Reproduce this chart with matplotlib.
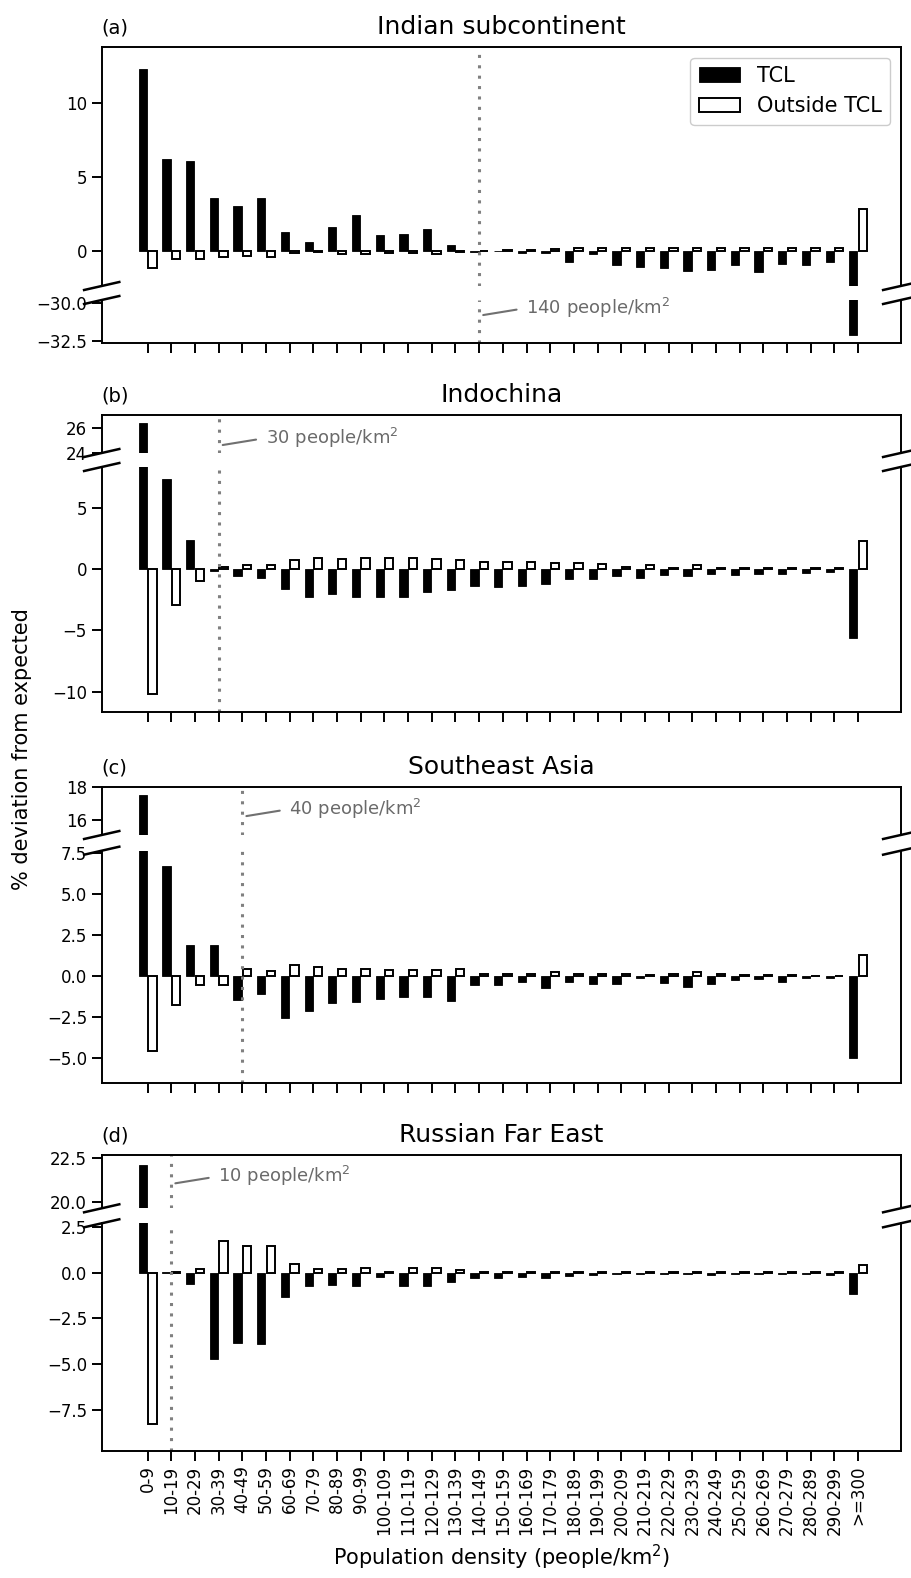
import numpy as np
import matplotlib
matplotlib.use('Agg')
import matplotlib.pyplot as plt
from matplotlib.lines import Line2D

# ---------------- data ----------------
categories = ['0-9', '10-19', '20-29', '30-39', '40-49', '50-59', '60-69', '70-79',
              '80-89', '90-99', '100-109', '110-119', '120-129', '130-139', '140-149',
              '150-159', '160-169', '170-179', '180-189', '190-199', '200-209',
              '210-219', '220-229', '230-239', '240-249', '250-259', '260-269',
              '270-279', '280-289', '290-299', '>=300']

india_tcl = [12.3, 6.2, 6.1, 3.6, 3.0, 3.6, 1.25, 0.6, 1.6, 2.4, 1.05, 1.15, 1.5, 0.35,
             -0.1, -0.05, -0.15, -0.15, -0.75, -0.25, -1.0, -1.1, -1.2, -1.35, -1.3,
             -0.95, -1.45, -0.9, -1.0, -0.8, -32.1]
india_out = [-1.15, -0.6, -0.6, -0.4, -0.35, -0.4, -0.15, -0.12, -0.2, -0.25, -0.15,
             -0.15, -0.2, -0.1, -0.05, 0.05, 0.05, 0.1, 0.15, 0.15, 0.15, 0.15, 0.15,
             0.15, 0.15, 0.15, 0.15, 0.15, 0.15, 0.15, 2.85]

indochina_tcl = [26.4, 7.3, 2.35, -0.15, -0.6, -0.7, -1.65, -2.25, -2.0, -2.25, -2.25,
                 -2.25, -1.85, -1.7, -1.35, -1.45, -1.4, -1.2, -0.85, -0.85, -0.55,
                 -0.75, -0.5, -0.6, -0.4, -0.5, -0.4, -0.4, -0.35, -0.25, -5.65]
indochina_out = [-10.2, -2.9, -0.95, 0.2, 0.3, 0.3, 0.7, 0.9, 0.8, 0.9, 0.9, 0.9, 0.8,
                 0.7, 0.6, 0.6, 0.6, 0.5, 0.45, 0.4, 0.2, 0.3, 0.1, 0.3, 0.1, 0.1, 0.1,
                 0.05, 0.05, 0.05, 2.3]

seasia_tcl = [17.55, 6.7, 1.9, 1.9, -1.45, -1.1, -2.55, -2.15, -1.65, -1.6, -1.4, -1.3,
              -1.25, -1.5, -0.55, -0.55, -0.35, -0.75, -0.35, -0.5, -0.5, -0.15, -0.45,
              -0.65, -0.5, -0.25, -0.2, -0.35, -0.15, -0.1, -5.0]
seasia_out = [-4.55, -1.75, -0.55, -0.55, 0.4, 0.3, 0.65, 0.55, 0.4, 0.4, 0.35, 0.35,
              0.35, 0.4, 0.1, 0.1, 0.1, 0.25, 0.1, 0.1, 0.15, 0.05, 0.1, 0.25, 0.1, 0.05,
              0.05, 0.05, 0.02, 0.02, 1.3]

russia_tcl = [22.1, 0.05, -0.6, -4.7, -3.85, -3.9, -1.35, -0.7, -0.65, -0.75, -0.25,
              -0.75, -0.75, -0.5, -0.3, -0.3, -0.25, -0.3, -0.2, -0.12, -0.08, -0.05,
              -0.05, -0.05, -0.1, -0.05, -0.08, -0.05, -0.08, -0.1, -1.15]
russia_out = [-8.25, 0.02, 0.2, 1.75, 1.45, 1.45, 0.45, 0.2, 0.2, 0.25, 0.05, 0.25, 0.25,
              0.15, 0.05, 0.05, 0.05, 0.03, 0.03, 0.03, 0.02, 0.02, 0.02, 0.02, 0.02,
              0.02, 0.02, 0.02, 0.02, 0.02, 0.4]

region_names = ['Indian subcontinent', 'Indochina', 'Southeast Asia', 'Russian Far East']
panel_tags = ['(a)', '(b)', '(c)', '(d)']
threshold_index = [14, 3, 4, 1]
threshold_people = [140, 30, 40, 10]

tcl_series = [india_tcl, indochina_tcl, seasia_tcl, russia_tcl]
out_series = [india_out, indochina_out, seasia_out, russia_out]

# ---------------- layout (pixels) ----------------
W, H = 911, 1578
XL, XR = 101.7, 900.7
# (top, upper_bottom, lower_top, bottom)
panel_px = [(47.3, 286.0, 300.0, 343.0),
            (415.0, 453.0, 467.0, 711.7),
            (787.3, 835.0, 850.7, 1083.0),
            (1155.0, 1208.3, 1223.3, 1451.0)]
upper_lims = [(-2.4, 13.8), (24.0, 27.0), (15.05, 18.0), (19.62, 22.67)]
lower_lims = [(-32.6, -29.8), (-11.63, 8.31), (-6.52, 7.64), (-9.74, 2.7)]
upper_ticks = [[0, 5, 10], [24, 26], [16, 18], [20, 22.5]]
lower_ticks = [[-32.5, -30.0], [-10, -5, 0, 5], [-5, -2.5, 0, 2.5, 5, 7.5],
               [-7.5, -5, -2.5, 0, 2.5]]
anno_axes = ['lower', 'upper', 'upper', 'upper']
anno_y = [-30.78, 24.63, 16.22, 21.05]

fig = plt.figure(figsize=(W / 100, H / 100), dpi=100)
x = np.arange(len(categories))
GRAY = '#808080'
TXTGRAY = '#6a6a6a'
LW = 1.4

for i in range(4):
    top, ub, lt, bot = panel_px[i]
    axu = fig.add_axes([XL / W, 1 - ub / H, (XR - XL) / W, (ub - top) / H])
    axl = fig.add_axes([XL / W, 1 - bot / H, (XR - XL) / W, (bot - lt) / H])
    for j, ax in enumerate((axu, axl)):
        lab_t = 'TCL' if (i == 0 and j == 0) else None
        lab_o = 'Outside TCL' if (i == 0 and j == 0) else None
        ax.bar(x - 0.2, tcl_series[i], 0.35, color='black', edgecolor='black',
               linewidth=0.6, label=lab_t)
        ax.bar(x + 0.2, out_series[i], 0.35, color='white', edgecolor='black',
               linewidth=LW, label=lab_o)
        ax.axvline(threshold_index[i], color=GRAY, lw=2.2, ls=(0, (1, 2.4)))
        ax.set_xlim(-1.94, 31.8)
        for s in ax.spines.values():
            s.set_linewidth(LW)
        ax.tick_params(width=LW, length=7, labelsize=12)
    axu.set_ylim(upper_lims[i])
    axl.set_ylim(lower_lims[i])
    axu.set_yticks(upper_ticks[i])
    axl.set_yticks(lower_ticks[i])
    axu.spines['bottom'].set_visible(False)
    axl.spines['top'].set_visible(False)
    axu.tick_params(axis='x', bottom=False, labelbottom=False)
    axl.set_xticks(x)
    if i == 3:
        axl.set_xticklabels(categories, rotation=90)
        axl.set_xlabel('Population density (people/km$^2$)', fontsize=15, labelpad=6)
    else:
        axl.set_xticklabels([])

    axu.set_title(region_names[i], fontsize=18, pad=9.6)
    axu.set_title(panel_tags[i], loc='left', fontsize=14, pad=9.6)

    if i == 0:
        axu.legend(loc='upper right', fontsize=15, framealpha=1, edgecolor='#cccccc')

    anno_ax = axl if anno_axes[i] == 'lower' else axu
    anno_ax.annotate('%d people/km$^2$' % threshold_people[i],
                     xy=(threshold_index[i] + 0.17, anno_y[i]),
                     xytext=(43, 7), textcoords='offset pixels',
                     ha='left', va='center', fontsize=13, color=TXTGRAY,
                     arrowprops=dict(arrowstyle='-', color='#707070', lw=1.5,
                                     shrinkA=5, shrinkB=0, relpos=(0, 0.5)))

    for xp in (XL, XR):
        for yp in (ub, lt):
            xs = [(xp - 17.6) / W, (xp + 17.6) / W]
            ys = [1 - (yp + 4) / H, 1 - (yp - 4) / H]
            fig.add_artist(Line2D(xs, ys, color='black', lw=1.8,
                                  transform=fig.transFigure, clip_on=False))

fig.text(22 / W, 1 - 749 / H, '% deviation from expected', rotation=90,
         ha='center', va='center', fontsize=15)

fig.savefig('out.png', dpi=100)
